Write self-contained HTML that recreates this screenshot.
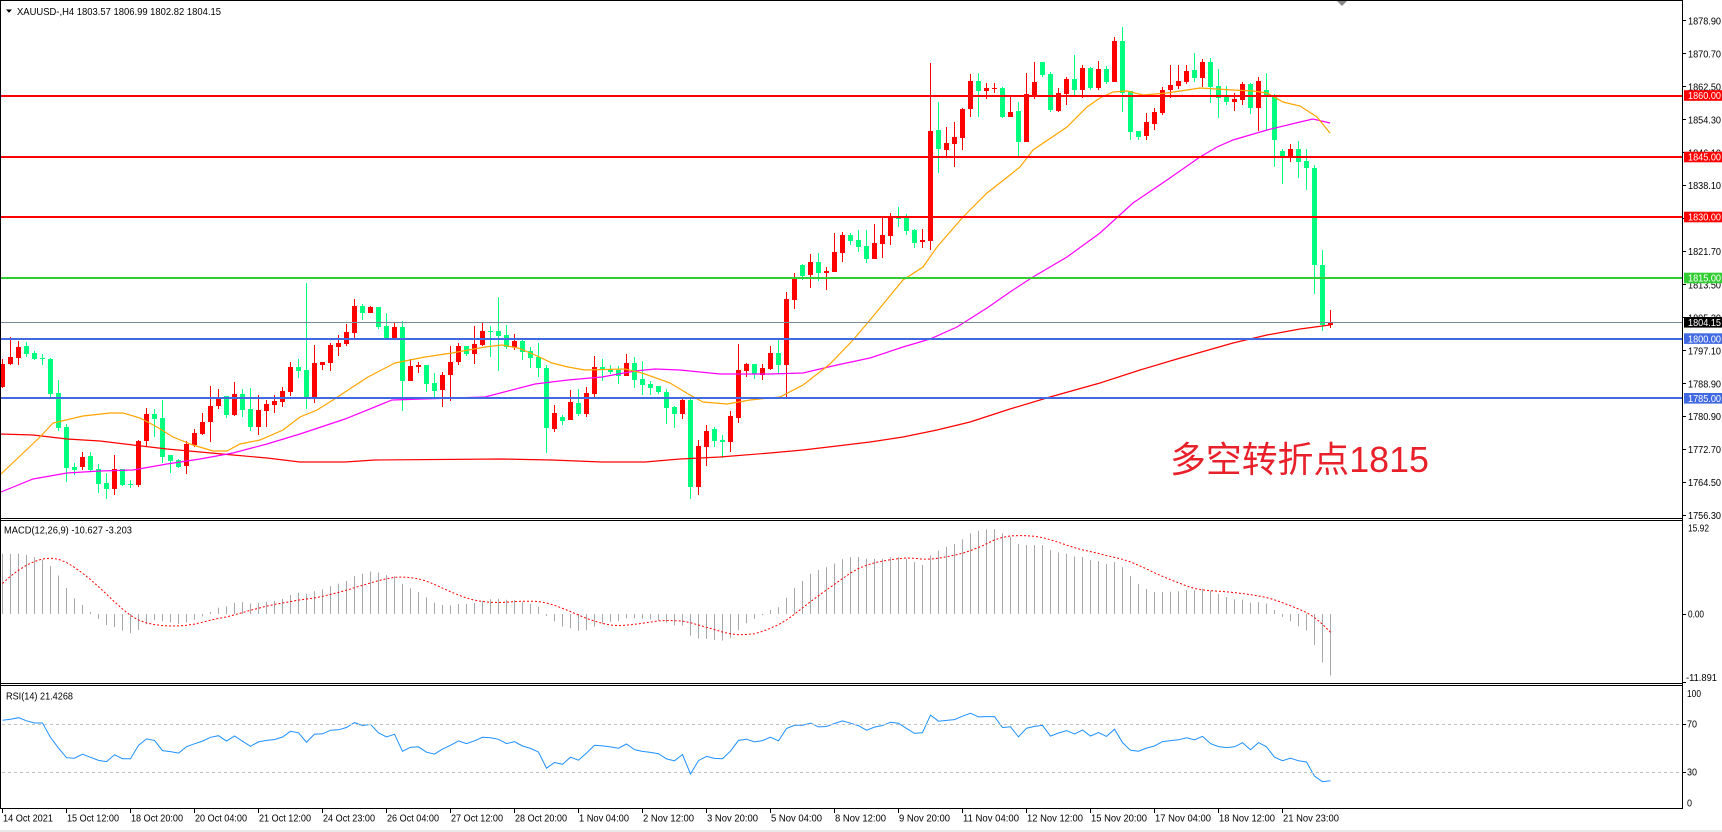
<!DOCTYPE html>
<html><head><meta charset="utf-8">
<style>
html,body{margin:0;padding:0;background:#fff;overflow:hidden;}
svg{display:block;}
text{font-family:"Liberation Sans","Noto Sans CJK SC",sans-serif;fill:#000;}
.ax{font-size:10.5px;}
.tl{font-size:10.5px;}
</style></head>
<body>
<svg id="c" xmlns="http://www.w3.org/2000/svg" width="1722" height="832" viewBox="0 0 1722 832">
<rect x="0" y="0" width="1722" height="832" fill="#fff"/>
<g id="dyn"></g>
<!-- level lines -->
<rect x="1" y="95" width="1682" height="2" fill="#FF0000"/>
<rect x="1" y="156" width="1682" height="2" fill="#FF0000"/>
<rect x="1" y="216" width="1682" height="2" fill="#FF0000"/>
<rect x="1" y="277" width="1682" height="2" fill="#32CD32"/>
<rect x="1" y="322" width="1682" height="1" fill="#778899"/>
<rect x="1" y="338" width="1682" height="2" fill="#4169E1"/>
<rect x="1" y="397" width="1682" height="2" fill="#4169E1"/>
<!-- RSI levels -->
<line x1="2" y1="724.5" x2="1681" y2="724.5" stroke="#C0C0C0" stroke-width="1" stroke-dasharray="3,3"/>
<line x1="2" y1="772.5" x2="1681" y2="772.5" stroke="#C0C0C0" stroke-width="1" stroke-dasharray="3,3"/>
<!-- frames -->
<rect x="0" y="0" width="1683" height="1" fill="#000"/>
<rect x="0" y="0" width="1" height="809" fill="#000"/>
<rect x="1682" y="0" width="1" height="809" fill="#000"/>
<rect x="0" y="518" width="1683" height="1" fill="#000"/>
<rect x="0" y="520" width="1683" height="1" fill="#000"/>
<rect x="0" y="683" width="1683" height="1" fill="#000"/>
<rect x="0" y="685" width="1683" height="1" fill="#000"/>
<rect x="0" y="808" width="1683" height="1" fill="#000"/>
<rect x="0" y="830" width="1722" height="2" fill="#E8E8E8"/>
<polygon points="1337,1 1347,1 1342,6" fill="#888"/>
<!-- title -->
<polygon points="6,9.5 12,9.5 9,12.8" fill="#000"/>
<text class="tl" x="17" y="15" textLength="204" lengthAdjust="spacingAndGlyphs">XAUUSD-,H4  1803.57 1806.99 1802.82 1804.15</text>
<text class="tl" x="4" y="533.5" textLength="128" lengthAdjust="spacingAndGlyphs">MACD(12,26,9) -10.627 -3.203</text>
<text class="tl" x="6" y="699.5" textLength="67" lengthAdjust="spacingAndGlyphs">RSI(14) 21.4268</text>
<!-- price axis ticks -->
<g fill="#000">
<rect x="1683" y="20" width="3" height="1"/><rect x="1683" y="53" width="3" height="1"/><rect x="1683" y="86" width="3" height="1"/><rect x="1683" y="119" width="3" height="1"/><rect x="1683" y="152" width="3" height="1"/><rect x="1683" y="185" width="3" height="1"/><rect x="1683" y="218" width="3" height="1"/><rect x="1683" y="251" width="3" height="1"/><rect x="1683" y="284" width="3" height="1"/><rect x="1683" y="317" width="3" height="1"/><rect x="1683" y="350" width="3" height="1"/><rect x="1683" y="383" width="3" height="1"/><rect x="1683" y="416" width="3" height="1"/><rect x="1683" y="449" width="3" height="1"/><rect x="1683" y="482" width="3" height="1"/><rect x="1683" y="515" width="3" height="1"/>
<rect x="1683" y="614" width="3" height="1"/><rect x="1683" y="682" width="3" height="1"/>
<rect x="1683" y="724" width="3" height="1"/><rect x="1683" y="772" width="3" height="1"/>
</g>
<g class="ax">
<text x="1688" y="24.3" textLength="33" lengthAdjust="spacingAndGlyphs">1878.90</text>
<text x="1688" y="57.4" textLength="33" lengthAdjust="spacingAndGlyphs">1870.70</text>
<text x="1688" y="90.5" textLength="33" lengthAdjust="spacingAndGlyphs">1862.50</text>
<text x="1688" y="123.6" textLength="33" lengthAdjust="spacingAndGlyphs">1854.30</text>
<text x="1688" y="156.7" textLength="33" lengthAdjust="spacingAndGlyphs">1846.10</text>
<text x="1688" y="189" textLength="33" lengthAdjust="spacingAndGlyphs">1838.10</text>
<text x="1688" y="222.1" textLength="33" lengthAdjust="spacingAndGlyphs">1829.90</text>
<text x="1688" y="255.2" textLength="33" lengthAdjust="spacingAndGlyphs">1821.70</text>
<text x="1688" y="288.3" textLength="33" lengthAdjust="spacingAndGlyphs">1813.50</text>
<text x="1688" y="321.4" textLength="33" lengthAdjust="spacingAndGlyphs">1805.30</text>
<text x="1688" y="354.5" textLength="33" lengthAdjust="spacingAndGlyphs">1797.10</text>
<text x="1688" y="387.6" textLength="33" lengthAdjust="spacingAndGlyphs">1788.90</text>
<text x="1688" y="419.9" textLength="33" lengthAdjust="spacingAndGlyphs">1780.90</text>
<text x="1688" y="453" textLength="33" lengthAdjust="spacingAndGlyphs">1772.70</text>
<text x="1688" y="486.1" textLength="33" lengthAdjust="spacingAndGlyphs">1764.50</text>
<text x="1688" y="519.2" textLength="33" lengthAdjust="spacingAndGlyphs">1756.30</text>
<text x="1688" y="531.5" textLength="21" lengthAdjust="spacingAndGlyphs">15.92</text>
<text x="1688" y="617.6" textLength="16" lengthAdjust="spacingAndGlyphs">0.00</text>
<text x="1686" y="680.8" textLength="31" lengthAdjust="spacingAndGlyphs">-11.891</text>
<text x="1687" y="696.8" textLength="14" lengthAdjust="spacingAndGlyphs">100</text>
<text x="1687" y="727.6" textLength="10" lengthAdjust="spacingAndGlyphs">70</text>
<text x="1687" y="775.6" textLength="10" lengthAdjust="spacingAndGlyphs">30</text>
<text x="1687" y="806.6" textLength="5" lengthAdjust="spacingAndGlyphs">0</text>
</g>
<!-- level label boxes -->
<rect x="1684" y="90.2" width="38" height="10.6" fill="#FF0000"/>
<rect x="1684" y="151.7" width="38" height="10.6" fill="#FF0000"/>
<rect x="1684" y="211.7" width="38" height="10.6" fill="#FF0000"/>
<rect x="1684" y="272.7" width="38" height="10.6" fill="#32CD32"/>
<rect x="1684" y="317" width="38" height="10.6" fill="#000"/>
<rect x="1684" y="333.3" width="38" height="10.6" fill="#4169E1"/>
<rect x="1684" y="393" width="38" height="10.6" fill="#4169E1"/>
<g class="ax" style="fill:#fff">
<text x="1688" y="99.2" textLength="33" lengthAdjust="spacingAndGlyphs" style="fill:#fff">1860.00</text>
<text x="1688" y="160.7" textLength="33" lengthAdjust="spacingAndGlyphs" style="fill:#fff">1845.00</text>
<text x="1688" y="220.7" textLength="33" lengthAdjust="spacingAndGlyphs" style="fill:#fff">1830.00</text>
<text x="1688" y="281.7" textLength="33" lengthAdjust="spacingAndGlyphs" style="fill:#fff">1815.00</text>
<text x="1688" y="326" textLength="33" lengthAdjust="spacingAndGlyphs" style="fill:#fff">1804.15</text>
<text x="1688" y="342.3" textLength="33" lengthAdjust="spacingAndGlyphs" style="fill:#fff">1800.00</text>
<text x="1688" y="402" textLength="33" lengthAdjust="spacingAndGlyphs" style="fill:#fff">1785.00</text>
</g>
<!-- time axis -->
<g fill="#000">
<rect x="2" y="809" width="1" height="4"/><rect x="66" y="809" width="1" height="4"/><rect x="130" y="809" width="1" height="4"/><rect x="194" y="809" width="1" height="4"/><rect x="258" y="809" width="1" height="4"/><rect x="322" y="809" width="1" height="4"/><rect x="386" y="809" width="1" height="4"/><rect x="450" y="809" width="1" height="4"/><rect x="514" y="809" width="1" height="4"/><rect x="578" y="809" width="1" height="4"/><rect x="642" y="809" width="1" height="4"/><rect x="706" y="809" width="1" height="4"/><rect x="770" y="809" width="1" height="4"/><rect x="834" y="809" width="1" height="4"/><rect x="898" y="809" width="1" height="4"/><rect x="962" y="809" width="1" height="4"/><rect x="1026" y="809" width="1" height="4"/><rect x="1090" y="809" width="1" height="4"/><rect x="1154" y="809" width="1" height="4"/><rect x="1218" y="809" width="1" height="4"/><rect x="1282" y="809" width="1" height="4"/>
</g>
<g class="ax">
<text x="3" y="821.5" textLength="50" lengthAdjust="spacingAndGlyphs">14 Oct 2021</text>
<text x="67" y="821.5" textLength="52" lengthAdjust="spacingAndGlyphs">15 Oct 12:00</text>
<text x="131" y="821.5" textLength="52" lengthAdjust="spacingAndGlyphs">18 Oct 20:00</text>
<text x="195" y="821.5" textLength="52" lengthAdjust="spacingAndGlyphs">20 Oct 04:00</text>
<text x="259" y="821.5" textLength="52" lengthAdjust="spacingAndGlyphs">21 Oct 12:00</text>
<text x="323" y="821.5" textLength="52" lengthAdjust="spacingAndGlyphs">24 Oct 23:00</text>
<text x="387" y="821.5" textLength="52" lengthAdjust="spacingAndGlyphs">26 Oct 04:00</text>
<text x="451" y="821.5" textLength="52" lengthAdjust="spacingAndGlyphs">27 Oct 12:00</text>
<text x="515" y="821.5" textLength="52" lengthAdjust="spacingAndGlyphs">28 Oct 20:00</text>
<text x="579" y="821.5" textLength="50" lengthAdjust="spacingAndGlyphs">1 Nov 04:00</text>
<text x="643" y="821.5" textLength="51" lengthAdjust="spacingAndGlyphs">2 Nov 12:00</text>
<text x="707" y="821.5" textLength="51" lengthAdjust="spacingAndGlyphs">3 Nov 20:00</text>
<text x="771" y="821.5" textLength="51" lengthAdjust="spacingAndGlyphs">5 Nov 04:00</text>
<text x="835" y="821.5" textLength="51" lengthAdjust="spacingAndGlyphs">8 Nov 12:00</text>
<text x="899" y="821.5" textLength="51" lengthAdjust="spacingAndGlyphs">9 Nov 20:00</text>
<text x="963" y="821.5" textLength="56" lengthAdjust="spacingAndGlyphs">11 Nov 04:00</text>
<text x="1027" y="821.5" textLength="56" lengthAdjust="spacingAndGlyphs">12 Nov 12:00</text>
<text x="1091" y="821.5" textLength="56" lengthAdjust="spacingAndGlyphs">15 Nov 20:00</text>
<text x="1155" y="821.5" textLength="56" lengthAdjust="spacingAndGlyphs">17 Nov 04:00</text>
<text x="1219" y="821.5" textLength="56" lengthAdjust="spacingAndGlyphs">18 Nov 12:00</text>
<text x="1283" y="821.5" textLength="56" lengthAdjust="spacingAndGlyphs">21 Nov 23:00</text>
</g>
<text x="1170" y="472" font-size="36" textLength="259" lengthAdjust="spacingAndGlyphs" style="fill:#E8202A;font-family:'Liberation Sans','Noto Sans CJK SC',sans-serif;">多空转折点1815</text>
</svg>
<script>
(function(){
var NS="http://www.w3.org/2000/svg";
var g=document.getElementById('dyn');
function el(t,a){var e=document.createElementNS(NS,t);for(var k in a)e.setAttribute(k,a[k]);g.appendChild(e);return e;}
var D="r,364,387,359,388;r,357,364,337,365;r,347,358,341,365;g,346,354,342,357;g,353,359,351,360;g,358,359,354,365;g,359,394,358,397;g,393,428,380,431;g,427,468,424,482;g,467,470,463,475;r,457,467,452,470;g,456,470,452,472;g,469,484,464,493;g,483,489,473,499;r,469,489,455,495;g,469,485,469,486;g,484,485,480,488;r,441,485,440,487;r,414,441,408,447;g,414,419,409,437;g,418,457,400,463;g,455,461,455,473;g,460,467,459,468;r,444,466,441,474;r,433,445,429,447;r,422,434,413,435;r,406,422,386,442;r,399,406,389,409;g,396,415,396,418;r,394,415,382,416;g,394,410,389,417;g,409,427,388,431;r,410,427,395,435;r,404,411,400,427;r,401,405,395,413;r,391,402,387,407;r,367,392,362,396;g,367,371,359,378;g,370,397,283,409;r,363,397,345,403;r,362,365,362,370;r,345,363,343,371;r,343,347,335,356;r,332,344,324,346;r,306,333,299,338;g,306,313,304,320;r,307,313,306,313;g,307,327,307,329;g,326,338,313,338;r,327,338,322,338;g,327,381,321,411;r,366,381,359,381;r,365,367,362,373;g,365,384,365,392;g,383,391,373,399;r,375,390,372,407;r,362,375,346,401;r,346,362,343,365;g,346,354,346,356;r,344,354,326,364;r,331,345,323,346;g,331,332,326,357;g,331,336,297,371;g,335,347,325,349;r,341,347,334,350;g,341,352,339,360;g,351,358,347,368;g,357,368,343,377;g,368,428,365,453;r,413,429,405,432;g,417,421,415,425;r,402,420,390,420;g,403,414,389,416;r,393,414,387,417;r,367,394,356,398;g,367,369,359,381;g,369,372,365,374;g,370,376,366,384;r,363,376,354,376;g,363,380,357,388;g,379,385,361,395;g,384,388,381,395;g,386,392,386,394;g,392,408,389,424;g,407,414,406,428;r,400,414,398,419;g,400,487,398,499;r,446,487,440,495;r,431,447,425,466;g,429,441,427,447;g,440,442,435,458;r,416,442,411,452;r,370,418,344,423;r,364,371,363,377;g,364,374,364,379;r,368,375,364,380;r,353,369,346,370;g,353,365,340,373;r,299,365,292,397;r,277,300,273,309;g,265,276,264,280;r,262,275,254,288;g,262,273,253,281;r,271,273,267,290;r,252,272,233,272;r,235,253,232,262;g,235,241,233,245;g,240,247,230,252;g,246,259,230,263;r,243,259,224,259;r,235,244,217,258;r,217,236,213,245;g,217,219,207,227;g,218,231,214,235;g,230,243,229,248;r,240,242,229,248;r,131,241,63,250;g,130,149,102,173;r,143,150,127,157;r,137,144,122,167;r,109,138,108,150;r,81,109,74,117;g,81,91,73,117;r,88,91,83,99;r,88,89,83,93;g,88,117,87,118;r,112,117,97,117;g,111,142,102,156;r,94,142,73,142;r,82,95,62,99;g,62,75,62,77;g,74,110,72,112;r,93,111,88,112;r,79,94,77,105;g,79,90,55,96;r,68,90,65,98;g,68,88,67,90;r,69,88,61,90;g,69,82,66,84;r,41,82,37,82;g,41,93,27,112;g,91,132,91,140;g,131,137,131,140;r,122,136,113,140;r,112,124,108,130;r,90,113,87,115;r,85,90,65,98;r,81,86,65,89;r,71,82,65,84;g,70,78,53,82;r,62,78,59,87;g,62,87,58,103;g,86,98,69,118;g,97,102,86,105;r,99,102,93,111;r,84,100,82,105;g,84,108,83,114;r,81,108,77,131;g,90,96,73,130;g,96,140,94,167;g,151,158,149,184;r,149,158,144,162;g,149,162,141,178;g,161,168,149,190;g,168,265,165,294;g,265,325,250,331;r,322,325,310,328";
var bars=D.split(';').map(function(s){var p=s.split(',');return {c:p[0],bt:+p[1],bb:+p[2],wt:+p[3],wb:+p[4]};});
function price(y){return 1878.9-(y-20.7)/4.037;}
var closes=[];
bars.forEach(function(b){closes.push(price(b.c==='r'?b.bt:b.bb));});
var e12=1785,e26=1774.5,buf=[-1,1,2.5,4,5.5,7,8.5,9.5],sigPts=[];
closes.forEach(function(c,i){
  e12+=(c-e12)*2/13; e26+=(c-e26)*2/27; var m=e12-e26;
  buf.push(m); if(buf.length>9)buf.shift();
  var s=0; for(var k=0;k<buf.length;k++)s+=buf[k]; s/=9;
  var cx=2+8*i, y0=614, y1=614-m*5.779;
  el('rect',{x:cx,y:Math.min(y0,y1),width:1,height:Math.max(1,Math.abs(y1-y0)),fill:'#A8A8A8'});
  sigPts.push((cx+0.5)+','+(614-s*5.779).toFixed(1));
});
el('polyline',{points:sigPts.join(' '),fill:'none',stroke:'#FF0000','stroke-width':1,'stroke-dasharray':'2,2'});
var ag=3.0,al=1.1,rp=[];
closes.forEach(function(c,i){
  if(i>0){var d=c-closes[i-1];var gn=d>0?d:0,ls=d<0?-d:0;ag=(ag*13+gn)/14;al=(al*13+ls)/14;}
  var r=100*ag/(ag+al);
  rp.push((2+8*i+0.5)+','+(808-r*1.2).toFixed(1));
});
el('polyline',{points:rp.join(' '),fill:'none',stroke:'#1E90FF','stroke-width':1});
bars.forEach(function(b,i){
  var cx=2+8*i, col=b.c==='r'?'#FF0000':'#00FF7F';
  el('rect',{x:cx,y:b.wt,width:1,height:Math.max(1,b.wb-b.wt),fill:col});
  el('rect',{x:cx-2,y:b.bt,width:5,height:Math.max(1,b.bb-b.bt),fill:col});
});
var red="0,434 33,435 67,439 100,441 133,445 167,449 200,452 233,455 267,458 300,462 345,462 375,460 502,459 552,460 602,462 645,462 680,459 720,457 770,453 803,450 837,446 870,442 903,437 937,430 970,422 1010,409 1050,397 1100,383 1140,370 1177,359 1233,343 1267,335 1300,329 1330,325";
var org="1,474 40,437 53,423 83,416 110,413 123,413 140,418 157,427 173,437 193,445 213,451 227,451 240,444 260,440 283,430 300,417 317,410 333,400 345,392 368,377 395,363 425,357 452,353 485,347 502,345 518,348 535,355 552,363 568,367 585,370 625,369 642,373 670,383 690,395 703,402 727,404 750,400 780,397 803,385 830,364 853,340 870,320 903,280 923,267 937,247 963,217 987,193 1010,175 1020,167 1033,150 1067,127 1087,107 1100,98 1113,92 1127,91 1143,95 1167,93 1200,88 1233,90 1253,91 1267,93 1283,102 1300,106 1317,117 1330,133";
var mag="1,492 33,479 67,473 100,471 133,470 167,464 200,459 233,453 267,444 300,434 333,423 345,419 392,400 485,397 535,384 568,380 602,377 635,371 655,369 680,370 720,374 770,374 803,373 837,365 870,358 903,347 930,339 957,327 987,308 1010,292 1033,277 1067,257 1100,233 1133,203 1167,180 1200,157 1217,147 1233,140 1267,130 1300,122 1313,119 1330,123";
el('polyline',{points:red,fill:'none',stroke:'#FF0000','stroke-width':1.2});
el('polyline',{points:mag,fill:'none',stroke:'#FF00FF','stroke-width':1.2});
el('polyline',{points:org,fill:'none',stroke:'#FFA500','stroke-width':1.2});
})();
</script>
</body></html>
